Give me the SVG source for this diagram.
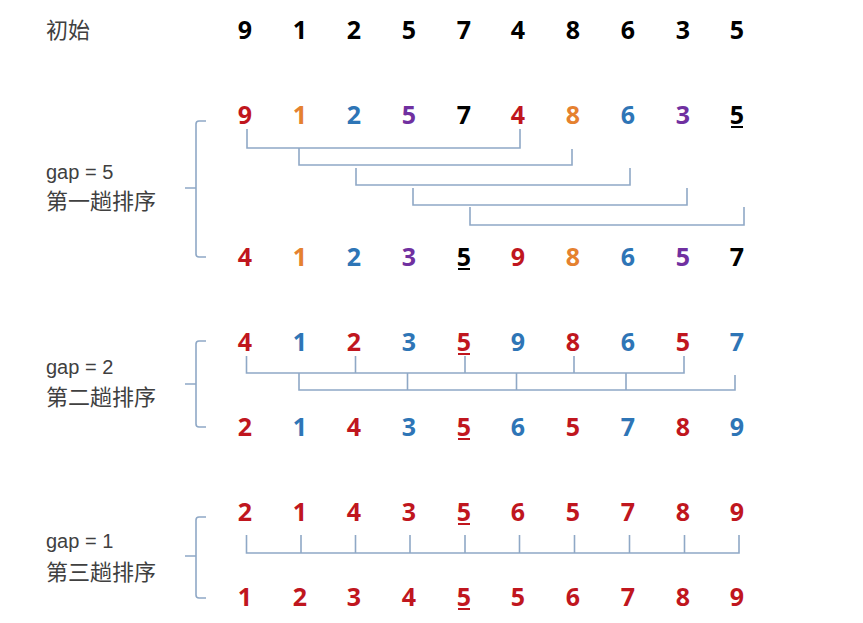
<svg xmlns="http://www.w3.org/2000/svg" width="863" height="623" viewBox="0 0 863 623">
<style>
.d{font-family:"Noto Sans","Open Sans","Liberation Sans",sans-serif;font-weight:700;font-size:25px;text-anchor:middle}
.r{fill:#C0161E}.o{fill:#E5812F}.b{fill:#2E75B6}.p{fill:#7030A0}.k{fill:#000}
.lbl{font-family:"Liberation Sans","Noto Sans CJK SC",sans-serif;font-size:20px;fill:#404040}
.cn{font-family:"Noto Sans CJK SC",sans-serif;font-size:22px;fill:#404040}
.ln{fill:none;stroke:#8FA8C6;stroke-width:1.6}
.ul{stroke-width:2}
</style>
<rect width="863" height="623" fill="#fff"/>

<g id="row-init">
<text class="cn" x="46" y="38">初始</text>
<g class="d k">
<text x="245" y="39">9</text><text x="300" y="39">1</text><text x="354" y="39">2</text><text x="409" y="39">5</text><text x="464" y="39">7</text><text x="518" y="39">4</text><text x="573" y="39">8</text><text x="628" y="39">6</text><text x="683" y="39">3</text><text x="737" y="39">5</text>
</g>
</g>

<g id="pass1">
<text class="lbl" x="46" y="179">gap = 5</text>
<text class="cn" x="46" y="209">第一趟排序</text>
<g class="d">
<text class="r" x="245" y="124">9</text><text class="o" x="300" y="124">1</text><text class="b" x="354" y="124">2</text><text class="p" x="409" y="124">5</text><text class="k" x="464" y="124">7</text><text class="r" x="518" y="124">4</text><text class="o" x="573" y="124">8</text><text class="b" x="628" y="124">6</text><text class="p" x="683" y="124">3</text><text class="k" x="737" y="124">5</text>
<text class="r" x="245" y="266">4</text><text class="o" x="300" y="266">1</text><text class="b" x="354" y="266">2</text><text class="p" x="409" y="266">3</text><text class="k" x="464" y="266">5</text><text class="r" x="518" y="266">9</text><text class="o" x="573" y="266">8</text><text class="b" x="628" y="266">6</text><text class="p" x="683" y="266">5</text><text class="k" x="737" y="266">7</text>
</g>
<line x1="731" y1="127" x2="743" y2="127" stroke="#000" class="ul"/>
<line x1="458" y1="269" x2="470" y2="269" stroke="#000" class="ul"/>
</g>

<g id="pass2">
<text class="lbl" x="46" y="374">gap = 2</text>
<text class="cn" x="46" y="405">第二趟排序</text>
<g class="d">
<text class="r" x="245" y="351">4</text><text class="b" x="300" y="351">1</text><text class="r" x="354" y="351">2</text><text class="b" x="409" y="351">3</text><text class="r" x="464" y="351">5</text><text class="b" x="518" y="351">9</text><text class="r" x="573" y="351">8</text><text class="b" x="628" y="351">6</text><text class="r" x="683" y="351">5</text><text class="b" x="737" y="351">7</text>
<text class="r" x="245" y="436">2</text><text class="b" x="300" y="436">1</text><text class="r" x="354" y="436">4</text><text class="b" x="409" y="436">3</text><text class="r" x="464" y="436">5</text><text class="b" x="518" y="436">6</text><text class="r" x="573" y="436">5</text><text class="b" x="628" y="436">7</text><text class="r" x="683" y="436">8</text><text class="b" x="737" y="436">9</text>
</g>
<line x1="458" y1="354" x2="470" y2="354" stroke="#C0161E" class="ul"/>
<line x1="458" y1="439" x2="470" y2="439" stroke="#C0161E" class="ul"/>
</g>

<g id="pass3">
<text class="lbl" x="46" y="548">gap = 1</text>
<text class="cn" x="46" y="580">第三趟排序</text>
<g class="d r">
<text x="245" y="521">2</text><text x="300" y="521">1</text><text x="354" y="521">4</text><text x="409" y="521">3</text><text x="464" y="521">5</text><text x="518" y="521">6</text><text x="573" y="521">5</text><text x="628" y="521">7</text><text x="683" y="521">8</text><text x="737" y="521">9</text>
<text x="245" y="606">1</text><text x="300" y="606">2</text><text x="354" y="606">3</text><text x="409" y="606">4</text><text x="464" y="606">5</text><text x="518" y="606">5</text><text x="573" y="606">6</text><text x="628" y="606">7</text><text x="683" y="606">8</text><text x="737" y="606">9</text>
</g>
<line x1="458" y1="524" x2="470" y2="524" stroke="#C0161E" class="ul"/>
<line x1="458" y1="609" x2="470" y2="609" stroke="#C0161E" class="ul"/>
</g>

<g id="connectors" class="ln">
<path d="M206,121 H199 Q196,121 196,124 V254 Q196,257 199,257 H206 M185,188 H196"/>
<path d="M206,341 H199 Q196,341 196,344 V424 Q196,427 199,427 H206 M185,384 H196"/>
<path d="M206,517 H199 Q196,517 196,520 V595 Q196,598 199,598 H206 M185,556 H196"/>

<path d="M247,129 V148 H520 V129"/>
<path d="M299,148 V165 H572 V149"/>
<path d="M356,168 V185 H630 V168"/>
<path d="M413,188 V205 H687 V188"/>
<path d="M470,207 V225 H744 V207"/>

<path d="M246.5,356 V373 H684 V356 M355.5,356 V373 M465,356 V373 M574,356 V373"/>
<path d="M299,373 V390 H735 V375 M407.5,373 V390 M516.5,373 V390 M626,373 V390"/>

<path d="M246.5,535 V553 H739 V535 M301,535 V553 M355.5,535 V553 M410,535 V553 M465,535 V553 M519.5,535 V553 M574.5,535 V553 M629.5,535 V553 M684.5,535 V553"/>
</g>
</svg>
